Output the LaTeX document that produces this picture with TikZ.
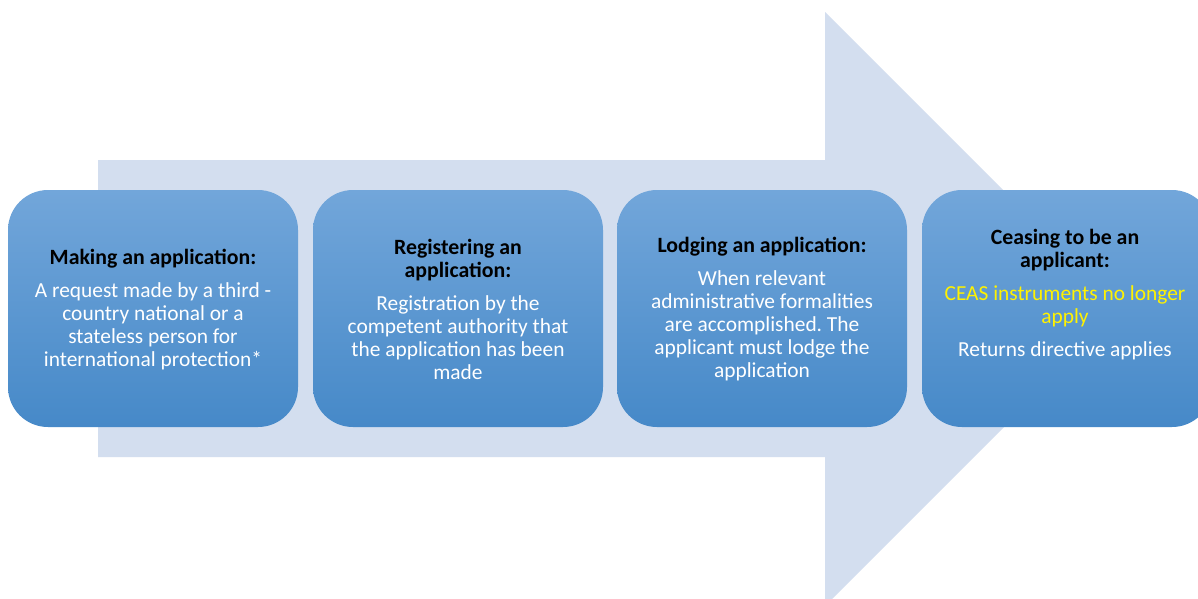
\documentclass[tikz,border=0pt]{standalone}
\usepackage{fontspec}
\setmainfont{Carlito}
\frenchspacing
\definecolor{arrowbg}{HTML}{D3DEEF}
\definecolor{boxtop}{HTML}{72A6DA}
\definecolor{boxbot}{HTML}{4689C8}
\definecolor{ceasyellow}{HTML}{FFF200}
\newcommand{\ttl}[1]{\textcolor{black}{\fontsize{21.8}{23}\selectfont\textbf{#1}}}
\tikzset{
  stagebox/.style={rounded corners=40pt, top color=boxtop, bottom color=boxbot, draw=none},
  stagetext/.style={align=center, font=\fontsize{21.4}{23}\selectfont, text=white, inner sep=0pt}
}
\begin{document}
\begin{tikzpicture}[x=1pt,y=-1pt]
\useasboundingbox (0,0) rectangle (1198,598);
\clip (0,0) rectangle (1198,598);
\fill[white] (0,0) rectangle (1198,598);
% big arrow
\fill[arrowbg] (98,160) -- (825,160) -- (825,12) -- (1122,309) -- (825,606) -- (825,457) -- (98,457) -- cycle;
% boxes
\shade[stagebox] (8,190) rectangle (298,427);
\shade[stagebox] (313,190) rectangle (603,427);
\shade[stagebox] (617,190) rectangle (907,427);
\shade[stagebox] (922,190) rectangle (1212,427);
\node[stagetext] (t1) at (153,310) {\ttl{Making an application:}\\[10pt]
A request made by a third -\\country national or a\\stateless person for\\international protection*};
\node[stagetext] (t2) at (458,309) {\ttl{Registering an}\\\ttl{application:}\\[10pt]
Registration by the\\competent authority that\\the application has been\\made};
\node[stagetext] (t3) at (762,309.5) {\ttl{Lodging an application:}\\[10pt]
When relevant\\administrative formalities\\are accomplished. The\\applicant must lodge the\\application};
\node[stagetext] (t4) at (1065,294.5) {\ttl{Ceasing to be an}\\\ttl{applicant:}\\[10pt]
\textcolor{ceasyellow}{CEAS instruments no longer}\\\textcolor{ceasyellow}{apply}\\[10pt]
Returns directive applies};
\end{tikzpicture}
\end{document}
